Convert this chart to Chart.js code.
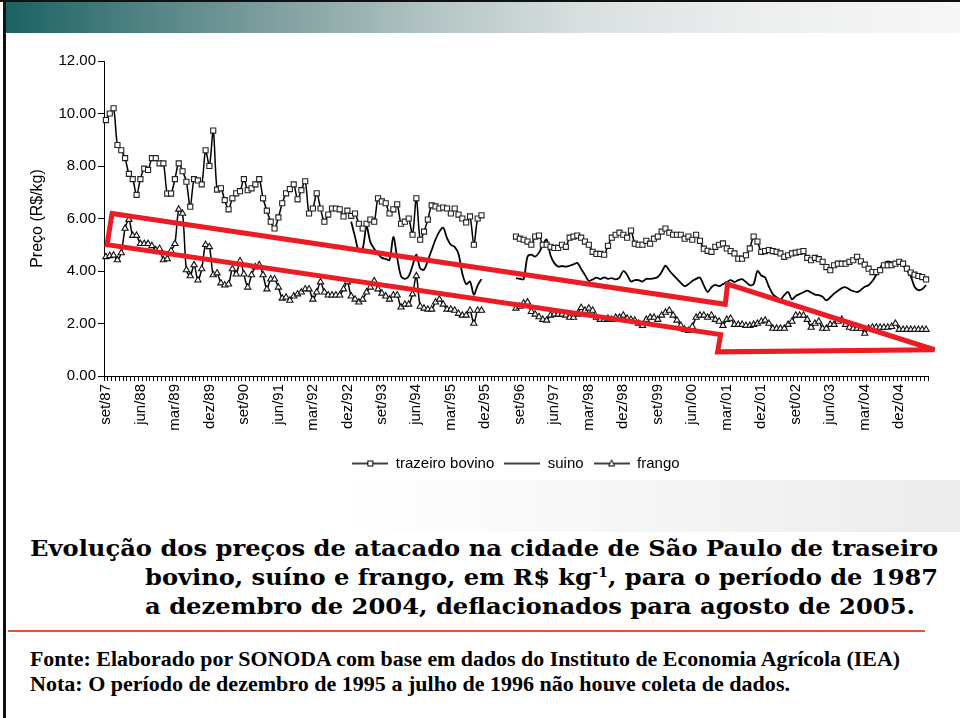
<!DOCTYPE html>
<html lang="pt-BR">
<head>
<meta charset="utf-8">
<title>Evolução dos preços de atacado - São Paulo</title>
<script src="https://cdn.jsdelivr.net/npm/chart.js@4.4.1/dist/chart.umd.min.js"></script>
<style>
  html, body { margin: 0; padding: 0; background: #fff; }
  #slide { position: relative; width: 960px; height: 718px; overflow: hidden; background: #fff; }
  #topo { position: absolute; left: 0; top: 0; width: 960px; height: 2px; background: #111; }
  #borda { position: absolute; left: 3px; top: 0; width: 3px; height: 718px; background: #111; }
  #faixa { position: absolute; left: 6px; top: 2px; width: 954px; height: 31px;
    background: linear-gradient(to right, #1b6262 0%, #4f8282 14%, #86a3a3 30%, #b5c5c5 45%, #d8dfdf 60%, #eceeee 78%, #f7f7f7 100%); }
  #sombra { position: absolute; left: 6px; top: 480px; width: 954px; height: 52px;
    background: linear-gradient(to right, rgba(255,255,255,0) 35%, #ececec 100%); }
  #linhaVermelha { position: absolute; left: 8px; top: 630px; width: 917px; height: 2px; background: #e2553c; }
  #grafico { position: absolute; left: 0; top: 0; }
  .titulo { position: absolute; font-family: "DejaVu Serif", serif; font-weight: bold; font-size: 23px;
    line-height: 28px; white-space: nowrap; transform-origin: 0 0; color: #000; }
  .nota { position: absolute; font-family: "Liberation Serif", serif; font-weight: bold; font-size: 20px;
    line-height: 22px; white-space: nowrap; transform-origin: 0 0; color: #000; }
  sup { font-size: 60%; line-height: 0; vertical-align: 0.55em; }
</style>
</head>
<body>
<div id="slide">
  <div id="faixa"></div>
  <div id="topo"></div>
  <div id="borda"></div>
  <div id="sombra"></div>
  <canvas id="grafico" width="960" height="500"></canvas>
  <div class="titulo ajusta" data-w="908" style="left:30px;top:534px;">Evolução dos preços de atacado na cidade de São Paulo de traseiro</div>
  <div class="titulo ajusta" data-w="793" style="left:145px;top:563px;">bovino, suíno e frango, em R$ kg<sup>-1</sup>, para o período de 1987</div>
  <div class="titulo ajusta" data-w="770" style="left:145px;top:592px;">a dezembro de 2004, deflacionados para agosto de 2005.</div>
  <div id="linhaVermelha"></div>
  <div class="nota ajusta" data-w="870" style="left:30px;top:648px;">Fonte: Elaborado por SONODA com base em dados do Instituto de Economia Agrícola (IEA)</div>
  <div class="nota ajusta" data-w="760" style="left:30px;top:673px;">Nota: O período de dezembro de 1995 a julho de 1996 não houve coleta de dados.</div>
</div>

<script>
'use strict';

/* dados (R$/kg), mensal de set/87 a jul/05 */
var bovino = [
  9.75,10.0,10.2,8.8,8.6,8.3,7.7,7.5,6.9,7.5,7.9,7.85,8.3,8.3,8.1,8.1,6.95,6.95,7.5,8.1,7.8,7.4,6.45,7.5,7.45,7.3,8.6,8.0,
  9.35,7.1,7.15,6.7,6.35,6.77,6.96,7.04,7.5,7.08,7.15,7.3,7.5,6.77,6.3,5.88,5.62,6.04,6.58,6.96,7.12,7.3,6.73,7.08,7.42,6.19,6.38,6.96,6.38,
  5.88,6.15,6.38,6.38,6.35,6.08,6.3,6.1,6.19,5.8,5.62,5.8,5.96,5.88,6.77,6.65,6.58,6.19,6.35,6.54,5.8,5.88,6.0,5.38,6.77,5.19,5.5,5.96,6.5,
  6.46,6.38,6.42,6.38,6.19,6.38,6.15,6.0,5.85,6.08,5.0,6.0,6.12,
  null,null,null,null,null,null,null,null,
  5.31,5.23,5.19,5.12,5.0,5.31,5.35,5.0,5.0,4.92,4.88,4.88,5.0,4.92,5.27,5.31,5.35,5.27,5.12,5.0,
  4.73,4.65,4.65,4.62,4.96,5.27,5.38,5.46,5.38,5.27,5.54,5.04,5.0,5.0,5.15,5.04,5.23,5.31,5.5,5.62,
  5.46,5.38,5.38,5.38,5.23,5.31,5.19,5.38,5.15,4.85,4.77,4.73,4.92,5.0,
  5.05,4.86,4.76,4.67,4.47,4.47,4.6,4.86,5.31,5.12,4.73,4.76,4.8,4.76,4.73,4.67,4.54,4.6,4.67,4.7,
  4.73,4.76,4.5,4.41,4.5,4.45,4.35,4.15,4.03,4.22,4.28,4.28,4.28,4.35,4.41,4.54,4.37,4.24,4.09,3.96,
  3.96,4.03,4.22,4.22,4.22,4.28,4.35,4.28,4.09,3.94,3.86,3.81,3.77,3.68
];

var suino = [
  null,null,null,null,null,null,null,null,null,null,null,null,null,null,null,null,
  null,null,null,null,null,null,null,null,null,null,null,null,null,null,null,null,
  null,null,null,null,null,null,null,null,null,null,null,null,null,null,null,null,
  null,null,null,null,null,null,null,null,null,null,null,null,null,null,null,null,
  5.88,5.3,4.75,4.85,5.7,5.1,4.85,4.65,4.5,4.46,4.42,5.3,4.5,3.8,3.7,3.8,4.2,4.62,4.1,4.05,
  4.4,4.8,5.2,5.5,5.65,5.25,5.0,4.92,4.65,3.9,3.5,3.6,3.1,3.45,3.69,
  null,null,null,null,null,null,null,null,
  3.73,3.7,3.69,4.54,4.62,4.55,4.7,5.0,5.2,4.6,
  4.3,4.17,4.19,4.17,4.2,4.25,4.31,4.08,3.85,3.62,
  3.68,3.75,3.69,3.76,3.7,3.73,3.68,3.75,4.0,3.85,
  3.6,3.65,3.65,3.6,3.7,3.7,3.72,3.77,3.96,4.2,
  4.02,3.85,3.7,3.55,3.42,3.5,3.62,3.7,3.75,3.45,
  3.2,3.38,3.47,3.42,3.5,3.58,3.65,3.58,3.65,3.69,
  3.58,3.46,3.5,4.0,3.83,3.75,3.4,3.12,3.0,2.92,
  3.08,3.2,2.92,3.05,3.12,3.19,3.25,3.18,3.1,3.08,
  3.02,2.88,3.0,3.14,3.25,3.35,3.38,3.3,3.23,3.2,
  3.28,3.4,3.46,3.62,3.85,4.12,4.3,4.37,4.33,4.3,
  4.36,4.2,4.02,3.8,3.4,3.27,3.31,3.46
];

var frango = [
  4.54,4.58,4.6,4.42,4.69,5.62,5.96,5.35,5.35,5.04,5.04,5.04,4.96,4.8,4.85,4.42,4.46,4.77,5.04,6.35,6.19,4.04,3.81,4.23,3.65,4.08,5.0,4.92,3.85,
  3.92,3.54,3.46,3.5,4.08,3.88,4.38,3.88,3.38,3.85,4.15,4.23,3.85,3.31,3.69,3.69,3.38,2.96,3.0,2.88,3.04,3.12,3.19,3.31,3.31,2.92,3.19,
  3.58,3.19,3.08,3.08,3.08,3.08,3.31,3.58,3.04,2.92,2.81,2.92,3.19,3.38,3.62,3.31,3.15,3.04,2.92,3.08,3.08,2.62,2.73,2.73,3.12,3.81,2.65,2.58,2.54,
  2.54,2.81,2.92,2.73,2.54,2.54,2.5,2.38,2.31,2.31,2.5,2.0,2.5,2.5,
  null,null,null,null,null,null,null,null,
  2.58,2.65,2.77,2.81,2.45,2.35,2.25,2.15,2.12,2.31,2.35,2.35,2.35,2.31,2.23,2.23,2.35,2.6,2.5,2.58,
  2.5,2.23,2.15,2.15,2.19,2.15,2.23,2.23,2.31,2.19,2.15,2.12,2.0,1.92,2.15,2.23,2.23,2.15,2.31,2.42,
  2.5,2.31,2.12,1.92,1.77,1.73,1.88,2.23,2.31,2.31,2.23,2.31,2.15,2.08,
  1.92,2.15,2.19,1.96,1.96,1.96,1.92,1.92,1.96,2.0,2.08,2.12,2.0,1.81,1.81,1.81,1.81,1.96,2.08,2.31,
  2.31,2.31,2.15,1.85,2.0,2.08,1.81,1.81,1.96,1.96,2.08,2.15,1.96,1.85,1.81,1.81,1.81,1.62,1.81,1.85,
  1.85,1.85,1.85,1.85,1.88,2.0,1.77,1.77,1.77,1.77,1.77,1.77,1.77,1.77
];

var series = ['trazeiro bovino', 'suino', 'frango'];
var nomesMes = ['jan','fev','mar','abr','mai','jun','jul','ago','set','out','nov','dez'];
var rotulosEixo = ['set/87','jun/88','mar/89','dez/89','set/90','jun/91','mar/92','dez/92','set/93','jun/94','mar/95','dez/95',
  'set/96','jun/97','mar/98','dez/98','set/99','jun/00','mar/01','dez/01','set/02','jun/03','mar/04','dez/04'];
var ticksY = [0, 2, 4, 6, 8, 10, 12];

/* seta vermelha (anotação) em coordenadas do gráfico: índice do mês, R$/kg */
var setaX = [1.6, 161.6, 162.2, 216.2, 159.6, 160.4, 0.3];
var setaY = [6.19, 2.73, 3.5, 1.0, 0.92, 1.58, 5.0];

/* categorias mensais a partir de set/87 */
var meses = [];
for (var k = 0; k < bovino.length; k++) {
  var n = 8 + k;
  meses.push(nomesMes[n % 12] + '/' + String(1987 + Math.floor(n / 12)).slice(2));
}
if (suino.length !== meses.length || frango.length !== meses.length) {
  throw new Error('tamanhos: ' + bovino.length + ' ' + suino.length + ' ' + frango.length);
}

/* ajusta largura dos textos */
document.querySelectorAll('.ajusta').forEach(function(el) {
  var alvo = parseFloat(el.getAttribute('data-w'));
  var w = el.getBoundingClientRect().width;
  el.style.transform = 'scaleX(' + (alvo / w).toFixed(4) + ')';
});

/* amostras da legenda: linha com marcador */
function amostra(tipo) {
  var c = document.createElement('canvas');
  c.width = 36; c.height = 10;
  var g = c.getContext('2d');
  g.strokeStyle = '#000';
  g.lineWidth = 1.4;
  g.beginPath(); g.moveTo(0, 5); g.lineTo(36, 5); g.stroke();
  g.fillStyle = '#fff';
  g.lineWidth = 1;
  if (tipo === 'rect') {
    g.fillRect(15.5, 2.5, 5, 5);
    g.strokeRect(15.5, 2.5, 5, 5);
  } else if (tipo === 'triangle') {
    g.beginPath(); g.moveTo(18, 1.5); g.lineTo(21, 7.5); g.lineTo(15, 7.5); g.closePath();
    g.fill(); g.stroke();
  }
  return c;
}
var amostras = [amostra('rect'), amostra('none'), amostra('triangle')];

var setaPlugin = {
  id: 'seta',
  afterDatasetsDraw: function(chart) {
    var xs = chart.scales.x, ys = chart.scales.y, ctx = chart.ctx;
    ctx.save();
    ctx.beginPath();
    for (var i = 0; i < setaX.length; i++) {
      var px = xs.getPixelForValue(setaX[i]), py = ys.getPixelForValue(setaY[i]);
      if (i === 0) ctx.moveTo(px, py); else ctx.lineTo(px, py);
    }
    ctx.closePath();
    ctx.lineWidth = 5;
    ctx.lineJoin = 'miter';
    ctx.miterLimit = 3;
    ctx.strokeStyle = '#ec1c24';
    ctx.stroke();
    ctx.restore();
  }
};

Chart.defaults.font.family = '"Liberation Sans", Arial, sans-serif';
Chart.defaults.color = '#000';

var ctx = document.getElementById('grafico').getContext('2d');
window.precos = new Chart(ctx, {
  type: 'line',
  data: {
    labels: meses,
    datasets: [{
      label: series[0], data: bovino,
      borderColor: '#000', borderWidth: 1.5, tension: 0.3,
      pointStyle: 'rect', pointRadius: 3.6, pointBackgroundColor: '#fff', pointBorderColor: '#222', pointBorderWidth: 1.1
    }, {
      label: series[1], data: suino,
      borderColor: '#000', borderWidth: 1.8, tension: 0.3, pointRadius: 0
    }, {
      label: series[2], data: frango,
      borderColor: '#000', borderWidth: 1.5, tension: 0.3,
      pointStyle: 'triangle', pointRadius: 3.6, pointBackgroundColor: '#fff', pointBorderColor: '#111', pointBorderWidth: 1.1
    }]
  },
  options: {
    responsive: false,
    animation: false,
    spanGaps: false,
    layout: { padding: { left: 20, top: 61, right: 32, bottom: 19 } },
    plugins: {
      tooltip: { enabled: false },
      legend: {
        position: 'bottom',
        fullSize: false,
        labels: {
          usePointStyle: true,
          pointStyleWidth: 36,
          boxHeight: 10,
          padding: 10,
          font: { size: 15 },
          generateLabels: function(chart) {
            return chart.data.datasets.map(function(ds, i) {
              return { text: ds.label, pointStyle: amostras[i], datasetIndex: i, hidden: false,
                fillStyle: '#000', strokeStyle: '#000', lineWidth: 1, fontColor: '#000' };
            });
          }
        }
      }
    },
    scales: {
      x: {
        type: 'category',
        offset: true,
        grid: { drawOnChartArea: false, drawTicks: true, tickLength: 5, color: '#000', offset: true },
        border: { color: '#000', width: 1 },
        ticks: {
          autoSkip: false, minRotation: 90, maxRotation: 90, padding: 3,
          font: { size: 15 },
          callback: function(v, i) {
            return rotulosEixo.indexOf(meses[i]) >= 0 ? meses[i] : '';
          }
        },
        afterFit: function(s) { s.height = 70; }
      },
      y: {
        min: 0, max: 12,
        grid: { drawOnChartArea: false, tickLength: 6, color: '#000' },
        border: { color: '#000', width: 1 },
        afterBuildTicks: function(s) { s.ticks = ticksY.map(function(v) { return { value: v }; }); },
        ticks: { padding: 2, font: { size: 15 }, callback: function(v) { return Number(v).toFixed(2); } },
        title: { display: true, text: 'Preço (R$/kg)', font: { size: 16 }, padding: { top: 8, bottom: 0 } },
        afterFit: function(s) { s.width = 84; }
      }
    }
  },
  plugins: [setaPlugin]
});
</script>
</body>
</html>
